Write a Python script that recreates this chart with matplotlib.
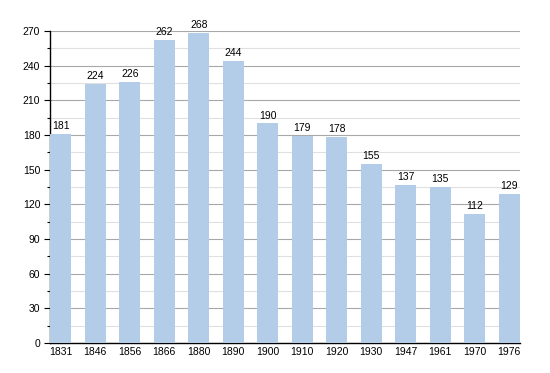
import matplotlib
matplotlib.use("Agg")
import matplotlib.pyplot as plt
from matplotlib.ticker import MultipleLocator

years = ["1831", "1846", "1856", "1866", "1880", "1890", "1900", "1910", "1920", "1930", "1947", "1961", "1970", "1976"]
population = [181, 224, 226, 262, 268, 244, 190, 179, 178, 155, 137, 135, 112, 129]

plt.rcParams['font.family'] = ['Liberation Sans', 'DejaVu Sans']

fig = plt.figure(figsize=(5.5, 3.73), dpi=100)
ax = fig.add_axes([0.0909, 0.0804, 0.8545, 0.8365])

x = list(range(len(years)))
w = 0.62
ax.bar(x, population, width=w, color="#b3cde8", zorder=3)
for xi, v in zip(x, population):
    ax.text(xi, v + 2.5, str(v), ha="center", va="bottom", fontsize=7.5, color="black", zorder=4)

ax.set_xlim(-w / 2, len(years) - 1 + w / 2)
ax.set_ylim(0, 270)
ax.yaxis.set_major_locator(MultipleLocator(30))
ax.yaxis.set_minor_locator(MultipleLocator(15))
ax.grid(axis="y", which="major", color="#a8a8a8", linewidth=0.8, zorder=1)
ax.grid(axis="y", which="minor", color="#e0e0e0", linewidth=0.8, zorder=1)
ax.set_xticks(x)
ax.set_xticklabels(years)
ax.tick_params(axis="x", length=0, labelsize=7.5, pad=3)
ax.tick_params(axis="y", which="major", length=4, width=0.8, labelsize=7.5, pad=3)
ax.tick_params(axis="y", which="minor", length=2.5, width=0.8)
for s in ["top", "right"]:
    ax.spines[s].set_visible(False)
ax.spines["left"].set_color("black")
ax.spines["bottom"].set_color("black")
ax.spines["left"].set_linewidth(1.0)
ax.spines["bottom"].set_linewidth(1.0)

fig.savefig("out.png", dpi=100)
